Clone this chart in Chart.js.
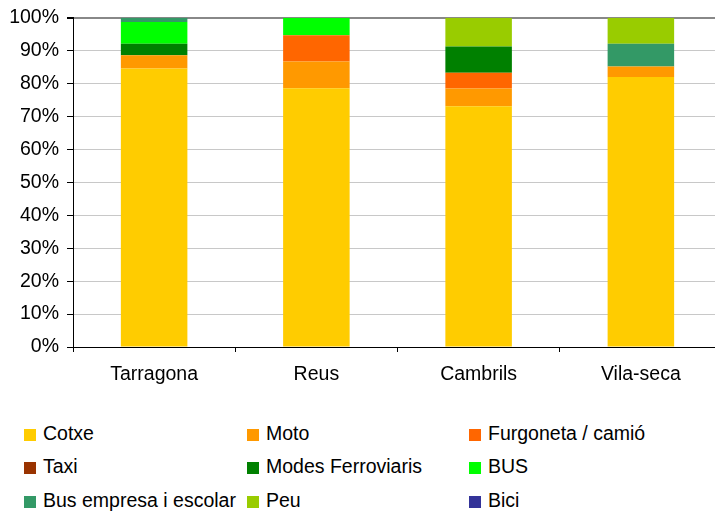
<!DOCTYPE html>
<html>
<head>
<meta charset="utf-8">
<script src="https://cdn.jsdelivr.net/npm/chart.js@4/dist/chart.umd.min.js"></script>
<style>
    body { margin: 0; background: #fff; font-family: 'Liberation Sans', Arial, sans-serif; }
    #wrap { position: relative; width: 715px; height: 516px; overflow: hidden; }
    #chart-box { position: absolute; left: 0; top: 0; width: 723px; height: 400px; }
    #legend { position: absolute; left: 0; top: 420px; width: 715px; }
    .item { position: absolute; height: 22px; line-height: 22px; font-size: 19.5px; color: #000; white-space: nowrap; }
    .item span.box { display: inline-block; width: 12px; height: 12px; margin-right: 7px; vertical-align: -1px; }
</style>
</head>
<body>
<div id="wrap">
    <div id="chart-box"><canvas id="modal-chart"></canvas></div>
    <div id="legend"></div>
</div>
<script>
const cities = ['Tarragona', 'Reus', 'Cambrils', 'Vila-seca'];
const modeNames = ['Cotxe', 'Moto', 'Furgoneta / camió', 'Taxi', 'Modes Ferroviaris', 'BUS', 'Bus empresa i escolar', 'Peu', 'Bici'];
const modeColors = ['#FFCC00', '#FF9900', '#FF6600', '#993300', '#008000', '#00FF00', '#339966', '#99CC00', '#333399'];

// share (%) per city, one array per mode
const cotxe = [84.6, 78.6, 73.1, 82.0];
const moto = [4.0, 8.1, 5.4, 3.2];
const furgoneta = [0, 8.0, 4.8, 0];
const taxi = [0, 0, 0, 0];
const ferroviaris = [3.5, 0, 8.0, 0];
const bus = [6.6, 5.3, 0, 0];
const busEmpresa = [1.3, 0, 0, 6.9];
const peu = [0, 0, 8.7, 7.9];
const bici = [0, 0, 0, 0];

const yTicks = [0, 10, 20, 30, 40, 50, 60, 70, 80, 90, 100];

const modeData = [cotxe, moto, furgoneta, taxi, ferroviaris, bus, busEmpresa, peu, bici];

function initChart() {
    const ctx = document.getElementById('modal-chart');
    const font = { family: "'Liberation Sans', Arial, sans-serif", size: 19.5 };

    const datasets = modeNames.map((name, i) => ({
        label: name,
        data: modeData[i],
        backgroundColor: modeColors[i],
        borderWidth: 0,
        barPercentage: 0.41,
        categoryPercentage: 1.0
    }));

    new Chart(ctx, {
        type: 'bar',
        data: { labels: cities, datasets: datasets },
        options: {
            responsive: true,
            maintainAspectRatio: false,
            animation: false,
            layout: { padding: { top: 16, right: 1, left: 0, bottom: 0 } },
            plugins: {
                legend: { display: false },
                tooltip: { enabled: false }
            },
            scales: {
                x: {
                    stacked: true,
                    grid: {
                        display: true,
                        offset: true,
                        drawOnChartArea: false,
                        drawTicks: true,
                        tickLength: 5,
                        tickColor: '#000'
                    },
                    border: { display: true, color: '#000', width: 1 },
                    ticks: { color: '#000', font: font, padding: 11 },
                    afterFit: (scale) => { scale.height = 53; }
                },
                y: {
                    stacked: true,
                    min: 0,
                    max: 100,
                    afterBuildTicks: (scale) => { scale.ticks = yTicks.map(v => ({ value: v })); },
                    grid: {
                        color: (c) => (c.tick && c.tick.value === 100) ? '#888888' : '#c8c8c8',
                        lineWidth: (c) => (c.tick && c.tick.value === 100) ? 2 : 1,
                        tickColor: '#000',
                        tickLength: 6
                    },
                    border: { display: true, color: '#000', width: 1 },
                    ticks: {
                        color: '#000',
                        font: { family: font.family, size: 19.5, lineHeight: 1 },
                        padding: 8,
                        callback: (v) => v + '%'
                    },
                    afterFit: (scale) => { scale.width = 73; }
                }
            }
        }
    });

    // legend laid out in three columns like the original
    const legend = document.getElementById('legend');
    const colX = [24, 247, 469];
    const rowY = [2, 35, 69];
    modeNames.forEach((name, i) => {
        const item = document.createElement('div');
        item.className = 'item';
        item.style.left = colX[i % 3] + 'px';
        item.style.top = rowY[Math.floor(i / 3)] + 'px';
        item.innerHTML = `<span class="box" style="background:${modeColors[i]}"></span>${name}`;
        legend.appendChild(item);
    });
}

initChart();
</script>
</body>
</html>
